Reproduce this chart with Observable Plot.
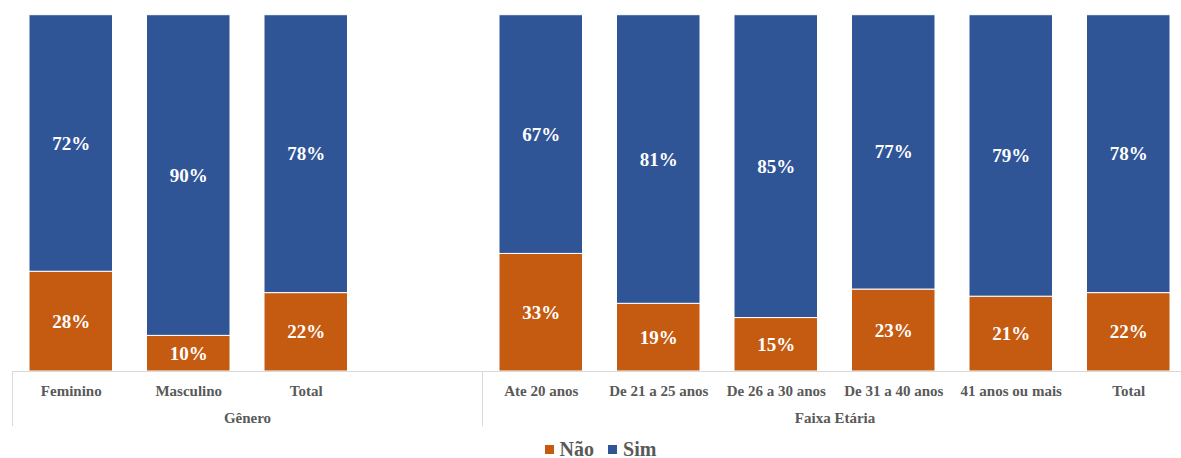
<!DOCTYPE html>
<html><head><meta charset="utf-8">
<script src="https://cdn.jsdelivr.net/npm/d3@7"></script>
<script src="https://cdn.jsdelivr.net/npm/@observablehq/plot@0.6"></script>
<style>
body{margin:0;background:#fff;}
#legend{display:flex;justify-content:center;gap:14px;font-family:"Liberation Serif","Times New Roman",serif;font-weight:bold;font-size:20px;color:#595959;height:26px;align-items:center;padding-left:20px;}
#legend span.sw{display:inline-block;width:9px;height:9px;margin-right:6px;vertical-align:middle;position:relative;top:-1px;}
</style>
</head><body>
<div id="chart"></div>
<div id="legend"></div>
<script>
const generoCats = ["Feminino","Masculino","Total"];
const generoNao = [0.28,0.10,0.22];
const generoSim = [0.72,0.90,0.78];
const faixaCats = ["Ate 20 anos","De 21 a 25 anos","De 26 a 30 anos","De 31 a 40 anos","41 anos ou mais","Total"];
const faixaNao = [0.33,0.19,0.15,0.23,0.21,0.22];
const faixaSim = [0.67,0.81,0.85,0.77,0.79,0.78];
const groups = ["Gênero","Faixa Etária"];
const series = ["Não","Sim"];
const colors = ["#C55A11","#2F5597"];

// slots: Gênero uses 3 bars + 1 blank slot, Faixa Etária 6 slots
const groupSlots = [generoCats.length + 1, faixaCats.length];
const cats = [];
generoCats.forEach((c,i)=>cats.push({label:c, slot:i, nao:generoNao[i], sim:generoSim[i]}));
faixaCats.forEach((c,i)=>cats.push({label:c, slot:groupSlots[0]+i, nao:faixaNao[i], sim:faixaSim[i]}));
const totalSlots = groupSlots[0] + groupSlots[1];

const segs = [];
cats.forEach(d=>{
  segs.push({slot:d.slot, s:series[0], y1:0, y2:d.nao, v:d.nao});
  segs.push({slot:d.slot, s:series[1], y1:d.nao, y2:d.nao + d.sim, v:d.sim});
});
const groupInfo = [
  {name:groups[0], start:0, end:groupSlots[0]},
  {name:groups[1], start:groupSlots[0], end:totalSlots}
];
const bounds = [0, groupSlots[0], totalSlots];

const font = '"Liberation Serif","Times New Roman",serif';
const plot = Plot.plot({
  width:1181, height:436,
  marginTop:14.7, marginBottom:436-371, marginLeft:12, marginRight:-6,
  x:{type:"linear", domain:[0,totalSlots], range:[12,1187], axis:null},
  y:{domain:[0,1], axis:null},
  color:{domain:series, range:colors},
  style:{fontFamily:font, background:"#fff"},
  marks:[
    Plot.rect(segs,{x1:d=>d.slot, x2:d=>d.slot+1, y1:"y1", y2:"y2", fill:"s", stroke:"#fff", strokeWidth:1, insetLeft:17, insetRight:17}),
    Plot.text(segs,{x:d=>d.slot+0.5, y:d=>(d.y1+d.y2)/2, text:d=>Math.round(d.v*100)+"%", fill:"#fff", fontSize:19, fontWeight:"bold"}),
    Plot.ruleY([0],{stroke:"#D9D9D9", strokeWidth:1}),
    Plot.ruleX(bounds,{x:d=>d, y1:0, y2:0, insetBottom:-55, stroke:"#D9D9D9", strokeWidth:1}),
    Plot.text(cats,{x:d=>d.slot+0.5, y:0, dy:20, text:"label", fill:"#595959", fontSize:15, fontWeight:"bold"}),
    Plot.text(groupInfo,{x:d=>(d.start+d.end)/2, y:0, dy:47, text:"name", fill:"#595959", fontSize:15, fontWeight:"bold"})
  ]
});
document.getElementById("chart").appendChild(plot);
const lg = document.getElementById("legend");
series.forEach((s,i)=>{
  const e = document.createElement("div");
  e.innerHTML = `<span class="sw" style="background:${colors[i]}"></span>${s}`;
  lg.appendChild(e);
});
</script>
</body></html>
